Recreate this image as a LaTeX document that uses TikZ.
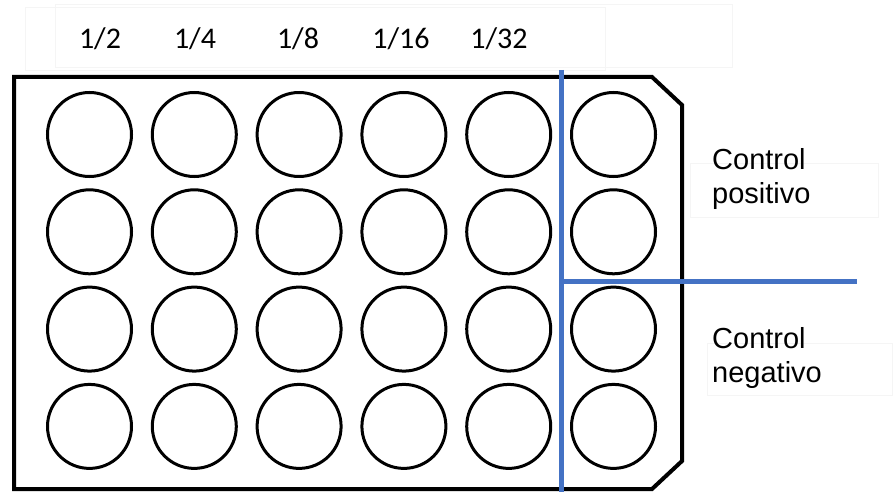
\documentclass[tikz,border=0pt]{standalone}
\usepackage{fontspec}
\setmainfont{Carlito}
\newfontfamily\labelfont{Liberation Sans}
\usetikzlibrary{calc}
\definecolor{divblue}{HTML}{4472C4}

\begin{document}
\begin{tikzpicture}[
			x=1pt, y=-1pt,
			plate/.style={line width=4pt, line join=miter},
			well/.style={circle, draw, line width=3pt, minimum size=84pt, inner sep=0pt},
			divider/.style={draw=divblue, line width=5pt},
			dilution/.style={anchor=base, inner sep=0pt, font=\fontsize{30}{36}\selectfont},
			control/.style={anchor=north west, inner sep=0pt, align=left, font=\labelfont\fontsize{29}{34}\selectfont},
			ghost box/.style={draw=black!4, line width=0.8pt}
			]
			\useasboundingbox (0,0) rectangle (893,492);
			
			% faint text frames
			\draw[ghost box] (25,7) rectangle (605,70);
			\draw[ghost box] (55,4) rectangle (732,67);
			\draw[ghost box] (690,163) rectangle (878,217);
			\draw[ghost box] (707,343) rectangle (892,395);
			
			% plate
			\draw[plate] (14,77) -- (652,77) -- (682,105) -- (682,461) -- (652,489) -- (14,489) -- cycle;
			
			% wells
			\foreach \c in {1,...,6} {
				\foreach \r in {1,...,4} {
					\node[well] (w\r\c) at ({89.5+104.8*(\c-1)}, {134.5+97.3*(\r-1)}) {};
				}
			}
			
			% dilutions
			\node[dilution] (d1) at (100,49) {1/2};
			\node[dilution] (d2) at (195,49) {1/4};
			\node[dilution] (d3) at (298,49) {1/8};
			\node[dilution] (d4) at (401,49) {1/16};
			\node[dilution] (d5) at (499,49) {1/32};
			
			% controls
			\coordinate (vtop) at (561,70);
			\coordinate (vbot) at (561,492);
			\coordinate (hleft) at (561,281);
			\coordinate (hright) at (857,281);
			\draw[divider] (vtop) -- (vbot);
			\draw[divider] (hleft) -- (hright);
			
			\node[control] (pos) at (712,148) {Control\\positivo};
			\node[control] (neg) at (712,327) {Control\\negativo};
		\end{tikzpicture}
\end{document}
